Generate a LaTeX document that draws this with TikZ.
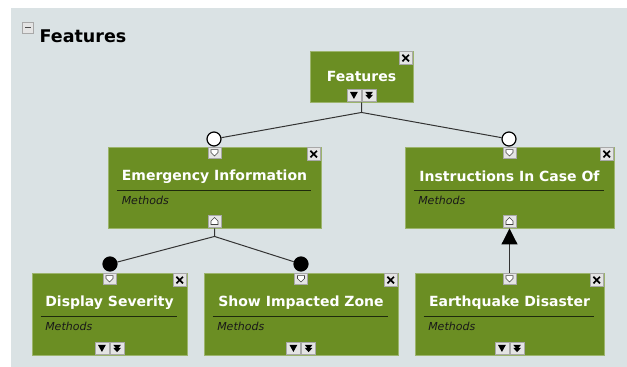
\documentclass[tikz,border=0pt]{standalone}
\usepackage{fontspec}
\setmainfont{DejaVu Sans}
\usetikzlibrary{calc,arrows.meta}
\definecolor{bgc}{HTML}{DAE2E4}
\definecolor{boxg}{HTML}{6B8E23}
\definecolor{boxb}{HTML}{9CB46C}
\definecolor{btnf}{HTML}{E4E4E4}
\definecolor{btnd}{HTML}{A8A8A8}
\definecolor{rulec}{HTML}{1E2A0C}
\definecolor{connc}{HTML}{333333}
\newcommand\xbtn[1]{\begin{scope}[shift={(#1.north east)}]
 \draw[btn] (-14.5,1) rectangle (-1,14);
 \draw[line width=1.7pt] (-11,4.2) -- (-4.5,10.8) (-11,10.8) -- (-4.5,4.2);
\end{scope}}
\newcommand\downtog[1]{\begin{scope}[shift={(#1.north)}]
 \draw[btn] (-6.5,0.5) rectangle (6.5,11.5);
 \draw[fill=white, draw=black!75, line width=0.6pt] (-3.5,3) -- (3.5,3) -- (3.5,6) -- (0,9.5) -- (-3.5,6) -- cycle;
\end{scope}}
\newcommand\uptog[1]{\begin{scope}[shift={(#1.south)}]
 \draw[btn] (-6.5,-13.5) rectangle (6.5,-1);
 \draw[fill=white, draw=black!75, line width=0.6pt] (-3.5,-4) -- (3.5,-4) -- (3.5,-7.5) -- (0,-11) -- (-3.5,-7.5) -- cycle;
\end{scope}}
\newcommand\expbtns[1]{\begin{scope}[shift={(#1.south)}]
 \draw[btn] (-14.5,-13.5) rectangle (-0.7,-1);
 \draw[btn] (0.7,-13.5) rectangle (14.5,-1);
 \fill[black] (-11.5,-10.5) -- (-3.7,-10.5) -- (-7.6,-3.5) -- cycle;
 \fill[black] (3.8,-10.5) -- (11.4,-10.5) -- (7.6,-6) -- cycle;
 \fill[black] (3.8,-7.5) -- (11.4,-7.5) -- (7.6,-3.3) -- cycle;
\end{scope}}
\begin{document}
\begin{tikzpicture}[x=1pt,y=-1pt,
 cls/.style={draw=boxb, fill=boxg, line width=0.9pt, inner sep=0pt, rectangle},
 btn/.style={fill=btnf, draw=btnd, line width=0.5pt},
 ttl/.style={text=white, font=\fontsize{14}{16}\selectfont\bfseries, inner sep=0pt},
 meth/.style={text=black!90, font=\fontsize{11}{13}\selectfont\itshape, inner sep=0pt, anchor=west},
 rulel/.style={draw=rulec, line width=1.1pt},
 conn/.style={draw=connc, line width=1pt},
 hcirc/.style={circle, draw=black, fill=white, line width=1.2pt, minimum size=14pt, inner sep=0pt},
 fcirc/.style={circle, draw=black, fill=black, line width=1.2pt, minimum size=14pt, inner sep=0pt}]
\useasboundingbox (0,0) rectangle (627,367);
\fill[white] (0,0) rectangle (627,367);
\fill[bgc] (11,8) rectangle (627,367);
% header
\draw[btn] (22,22) rectangle (33.5,33);
\draw[line width=1pt, black!70] (25,27.5) -- (30.5,27.5);
\node[anchor=base west, inner sep=0pt, font=\fontsize{17.5}{20}\selectfont\bfseries] (hdr) at (39.5,42.5) {Features};
% class boxes
\node[cls, minimum width=103pt, minimum height=51pt] (feat) at (361.5,76.5) {};
\node[cls, minimum width=213pt, minimum height=81pt] (ei) at (214.5,187.5) {};
\node[cls, minimum width=209pt, minimum height=81pt] (inst) at (509.5,187.5) {};
\node[cls, minimum width=155pt, minimum height=82pt] (ds) at (109.5,314) {};
\node[cls, minimum width=194pt, minimum height=82pt] (siz) at (301,314) {};
\node[cls, minimum width=189pt, minimum height=82pt] (eq) at (509.5,314) {};
% titles
\node[ttl] (feat-t) at ($(feat.north)+(0,26)$) {Features};
\node[ttl] (ei-t) at ($(ei.north)+(0,30)$) {Emergency Information};
\node[ttl] (inst-t) at ($(inst.north)+(0,30)$) {Instructions In Case Of};
\node[ttl] (ds-t) at ($(ds.north)+(0,30.5)$) {Display Severity};
\node[ttl] (siz-t) at ($(siz.north)+(0,30.5)$) {Show Impacted Zone};
\node[ttl] (eq-t) at ($(eq.north)+(0,30.5)$) {Earthquake Disaster};
% rules
\foreach \n in {ei,inst,ds,siz,eq}{
 \draw[rulel] ($(\n.north west)+(9,43.5)$) -- ($(\n.north east)+(-10,43.5)$);
}
% methods
\node[meth] (ei-m) at ($(ei.north west)+(14,54)$) {Methods};
\node[meth] (inst-m) at ($(inst.north west)+(13.5,54)$) {Methods};
\node[meth] (ds-m) at ($(ds.north west)+(13.5,54)$) {Methods};
\node[meth] (siz-m) at ($(siz.north west)+(13.5,54)$) {Methods};
\node[meth] (eq-m) at ($(eq.north west)+(13.5,54)$) {Methods};
% buttons
\foreach \n in {feat,ei,inst,ds,siz,eq}{\xbtn{\n}}
\foreach \n in {ei,inst,ds,siz,eq}{\downtog{\n}}
\uptog{ei}
\uptog{inst}
\expbtns{feat}
\expbtns{ds}
\expbtns{siz}
\expbtns{eq}
% connectors
\coordinate (j1) at ($(feat.south)+(0,10)$);
\coordinate (j2) at ($(ei.south)+(0,8)$);
\node[hcirc] (c1) at (214,139) {};
\node[hcirc] (c2) at (509,139) {};
\node[fcirc] (c3) at (110,264) {};
\node[fcirc] (c4) at (301,264) {};
\draw[conn] (feat.south) -- (j1) -- (c1);
\draw[conn] (j1) -- (c2);
\draw[conn] (ei.south) -- (j2) -- (c3);
\draw[conn] (j2) -- (c4);
\draw[conn, -{Triangle[length=16pt,width=16pt,color=black,fill=black]}] (eq.north) -- (inst.south);
\end{tikzpicture}
\end{document}
